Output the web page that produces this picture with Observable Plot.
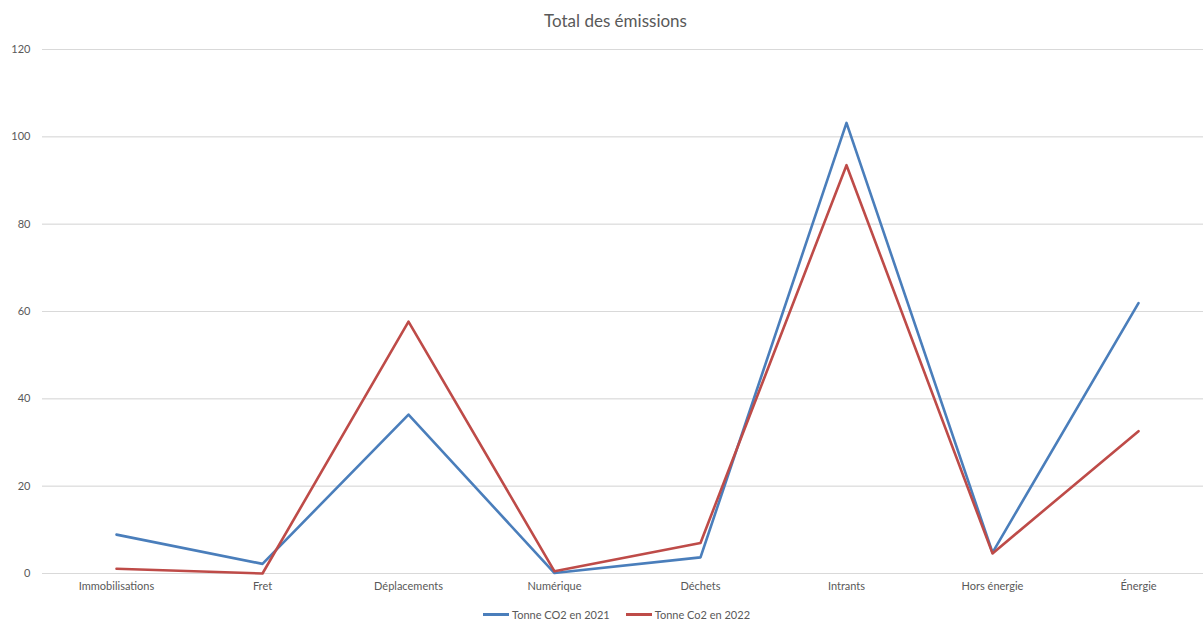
<!DOCTYPE html>
<html>
<head>
<meta charset="utf-8">
<script src="https://cdn.jsdelivr.net/npm/d3@7"></script>
<script src="https://cdn.jsdelivr.net/npm/@observablehq/plot@0.6"></script>
<style>
  body { margin: 0; background: #fff; font-family: Lato, "Open Sans", sans-serif; }
  #title { height: 40px; line-height: 42px; text-align: center; font-size: 17px; color: #595959; padding-left: 28px; }
  #legend { display: flex; justify-content: center; align-items: center; gap: 16px; font-size: 11px; color: #595959; height: 18px; margin-left: 30px; }
  .item { display: flex; align-items: center; gap: 3px; }
  .sw { width: 26px; height: 3px; }
</style>
</head>
<body>
<div id="title">Total des émissions</div>
<div id="chart"></div>
<div id="legend"></div>
<script>
const categories = ["Immobilisations", "Fret", "Déplacements", "Numérique", "Déchets", "Intrants", "Hors énergie", "Énergie"];
const seriesNames = ["Tonne CO2 en 2021", "Tonne Co2 en 2022"];
const values2021 = [8.9, 2.2, 36.4, 0.1, 3.7, 103.2, 4.8, 61.9];
const values2022 = [1.1, 0.0, 57.7, 0.5, 7.0, 93.5, 4.6, 32.6];
const yTicks = [0, 20, 40, 60, 80, 100, 120];
const colors = ["#4a7ebb", "#be4b48"];

const data = [];
categories.forEach((c, i) => {
  data.push({category: c, value: values2021[i], series: seriesNames[0]});
  data.push({category: c, value: values2022[i], series: seriesNames[1]});
});

const chart = Plot.plot({
  width: 1203,
  height: 565,
  marginTop: 9,
  marginBottom: 32,
  marginLeft: 42,
  marginRight: 0,
  style: {fontFamily: "Lato, 'Open Sans', sans-serif", fontSize: "11px", color: "#595959", background: "#fff"},
  x: {type: "point", domain: categories, range: [42, 1211], padding: 0.5, label: null, tickSize: 0, tickPadding: 9},
  y: {domain: [0, 120], ticks: yTicks, label: null, tickSize: 0, tickPadding: 12, grid: true},
  color: {domain: seriesNames, range: colors},
  marks: [
    Plot.gridY(yTicks, {stroke: "#d9d9d9", strokeOpacity: 1, strokeWidth: 1}),
    Plot.line(data, {x: "category", y: "value", stroke: "series", z: "series", strokeWidth: 2.6, strokeLinejoin: "round", strokeLinecap: "round"})
  ]
});
document.getElementById("chart").appendChild(chart);

const legend = document.getElementById("legend");
seriesNames.forEach((s, i) => {
  const item = document.createElement("div");
  item.className = "item";
  const sw = document.createElement("div");
  sw.className = "sw";
  sw.style.background = colors[i];
  const t = document.createElement("span");
  t.textContent = s;
  item.appendChild(sw);
  item.appendChild(t);
  legend.appendChild(item);
});
</script>
</body>
</html>
